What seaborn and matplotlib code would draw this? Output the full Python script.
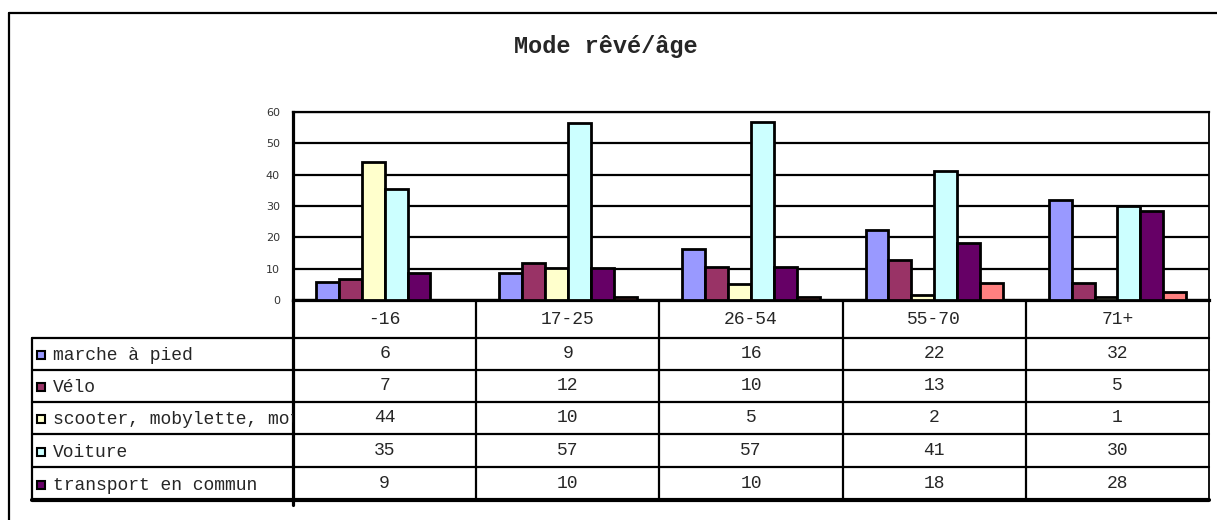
import numpy as np
import pandas as pd
import matplotlib
matplotlib.use("Agg")
import matplotlib.pyplot as plt
import seaborn as sns

# data (bar heights; the table prints them rounded)
ages = ["-16", "17-25", "26-54", "55-70", "71+"]
modes = ["marche à pied", "Vélo", "scooter, mobylette, moto", "Voiture",
         "transport en commun", "autre"]
marche = [5.9, 8.6, 16.3, 22.4, 31.8]
velo = [6.8, 11.8, 10.4, 12.9, 5.3]
scooter = [43.9, 10.2, 5.0, 1.6, 1.0]
voiture = [35.4, 56.6, 56.8, 41.3, 30.0]
transport = [8.6, 10.2, 10.4, 18.2, 28.4]
autre = [0.0, 0.9, 1.0, 5.3, 2.5]
colors = ["#9999FF", "#993366", "#FFFFCC", "#CCFFFF", "#660066", "#FF8080"]
n_table_rows = 5  # last series row is cut off in the table

series = [marche, velo, scooter, voiture, transport, autre]
df = pd.DataFrame(
    [(a, m, v) for m, vals in zip(modes, series) for a, v in zip(ages, vals)],
    columns=["age", "mode", "value"],
)

W, H = 1217, 520
PL, PR, PT, PB = 293, 1209, 112, 300  # plot area in pixels
LAB_L = 32
row_lines = [338, 370, 402, 434, 467, 500]
mono = "Liberation Mono"

sns.set_style("white")
fig = plt.figure(figsize=(W / 100, H / 100), dpi=100)

# overlay in pixel coordinates for frame + table
ov = fig.add_axes([0, 0, 1, 1])
ov.set_xlim(0, W)
ov.set_ylim(H, 0)
ov.axis("off")

ax = fig.add_axes([PL / W, (H - PB) / H, (PR - PL) / W, (PB - PT) / H])
sns.barplot(data=df, x="age", y="value", hue="mode", palette=colors,
            width=0.75, saturation=1, edgecolor="black", linewidth=2.0,
            legend=False, ax=ax, zorder=3)
ax.set_ylim(0, 60)
ax.set_xlim(-0.5, len(ages) - 0.5)
ax.set_yticks(range(0, 61, 10))
ax.set_xticks([])
ax.set_xlabel("")
ax.set_ylabel("")
ax.yaxis.grid(True, color="black", linewidth=1.6, zorder=0)
ax.set_axisbelow(True)
for s in ["left", "bottom"]:
    ax.spines[s].set_linewidth(2.3)
    ax.spines[s].set_color("black")
ax.spines["top"].set_linewidth(1.6)
ax.spines["top"].set_color("black")
ax.spines["right"].set_linewidth(1.3)
ax.spines["right"].set_color("black")
ax.tick_params(axis="y", direction="out", length=4.5, width=2, color="black",
               labelsize=8, labelcolor="#333333", pad=5)
for lab in ax.get_yticklabels():
    lab.set_fontfamily("DejaVu Sans")

# outer frame (open at bottom/right)
ov.plot([9, 9], [12.7, H], color="black", lw=1.6)
ov.plot([9, W], [12.7, 12.7], color="black", lw=1.6)

fig.text(606 / W, 1 - 47 / H, "Mode rêvé/âge", ha="center", va="center",
         fontsize=17, fontweight="bold", fontfamily=mono)

# data table
colw = (PR - PL) / len(ages)
bounds = [PL + i * colw for i in range(len(ages) + 1)]
ov.plot([PL, PL], [PB, 505], color="black", lw=2.3)
for b in bounds[1:]:
    ov.plot([b, b], [PB, 500], color="black", lw=1.6 if b < PR - 1 else 1.3)
for y in row_lines[:-1]:
    ov.plot([LAB_L, PR], [y, y], color="black", lw=1.6)
ov.plot([LAB_L, PR], [row_lines[-1], row_lines[-1]], color="black", lw=3)
ov.plot([LAB_L, LAB_L], [row_lines[0], row_lines[-1]], color="black", lw=1.6)

for i, a in enumerate(ages):
    cx = (bounds[i] + bounds[i + 1]) / 2
    ov.text(cx, (PB + row_lines[0]) / 2, a, ha="center", va="center",
            fontsize=13, fontfamily=mono)

lab_ax = fig.add_axes([LAB_L / W, (H - row_lines[-1]) / H, (PL - LAB_L) / W,
                       (row_lines[-1] - row_lines[0]) / H])
lab_ax.set_xlim(LAB_L, PL)
lab_ax.set_ylim(row_lines[-1], row_lines[0])
lab_ax.axis("off")

for r in range(n_table_rows):
    cy = (row_lines[r] + row_lines[r + 1]) / 2
    lab_ax.add_patch(plt.Rectangle((37, cy - 3), 8, 8, facecolor=colors[r],
                                   edgecolor="black", lw=1.5))
    lab_ax.text(53, cy + 2, modes[r], ha="left", va="center", fontsize=13,
                fontfamily=mono, clip_on=True)
    for i, v in enumerate(series[r]):
        cx = (bounds[i] + bounds[i + 1]) / 2
        ov.text(cx, cy, f"{int(np.floor(v + 0.5))}", ha="center", va="center",
                fontsize=13, fontfamily=mono)

fig.savefig("out.png", dpi=100, facecolor="white")
